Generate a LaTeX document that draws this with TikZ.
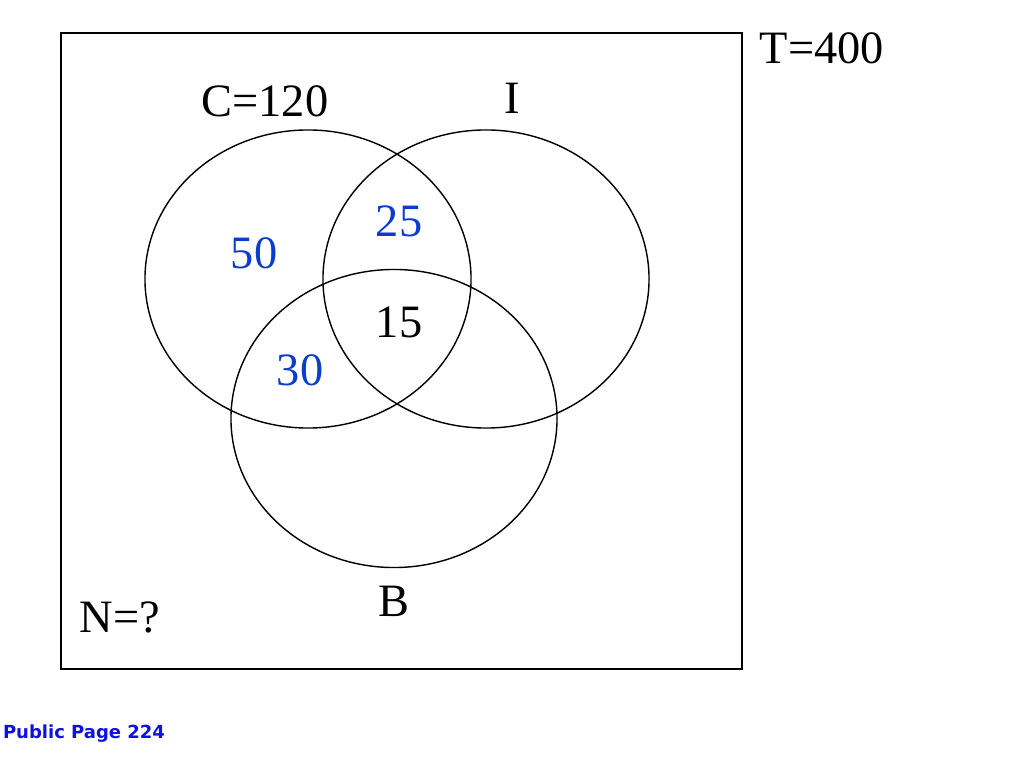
\documentclass[tikz,border=0pt]{standalone}
\usepackage{fontspec}
\setmainfont{Liberation Serif}
\newfontfamily\pagefont{DejaVu Sans}
\usepackage{xcolor}
\definecolor{countblue}{RGB}{10,60,205}
\definecolor{pageblue}{RGB}{15,15,230}
\usetikzlibrary{shapes.geometric, positioning}

\begin{document}
\begin{tikzpicture}[x=0.025cm, y=-0.025cm,
    setcirc/.style={draw, ellipse, line width=1pt, inner sep=0pt, minimum width=8.15cm, minimum height=7.45cm},
    bigtext/.style={font=\fontsize{33}{40}\selectfont, inner sep=0pt},
    count/.style={bigtext, text=countblue}]
    \useasboundingbox (0,0) rectangle (1014,760);
    \draw[line width=1pt] (61,33) rectangle (742,669);

    \node[setcirc] (setC) at (308,279) {};
    \node[setcirc] (setI) at (486,279) {};
    \node[setcirc] (setB) at (394,418.5) {};

    \node[bigtext] (labC) at (265,101) {C=120};
    \node[bigtext] (labI) at (512,98) {I};
    \node[bigtext] (labB) at (394,601) {B};
    \node[bigtext] (labT) at (822,48) {T=400};
    \node[bigtext] (labN) at (120,617) {N=?};

    \node[count] (onlyC) at (254,253) {50};
    \node[count] (CI) at (399,221) {25};
    \node[count] (CB) at (300,370) {30};
    \node[bigtext] (CIB) at (399,322) {15};

    \node[font=\pagefont\bfseries\fontsize{12.8}{15}\selectfont, text=pageblue, inner sep=0pt] (page) at (84,734) {Public Page 224};
\end{tikzpicture}
\end{document}
